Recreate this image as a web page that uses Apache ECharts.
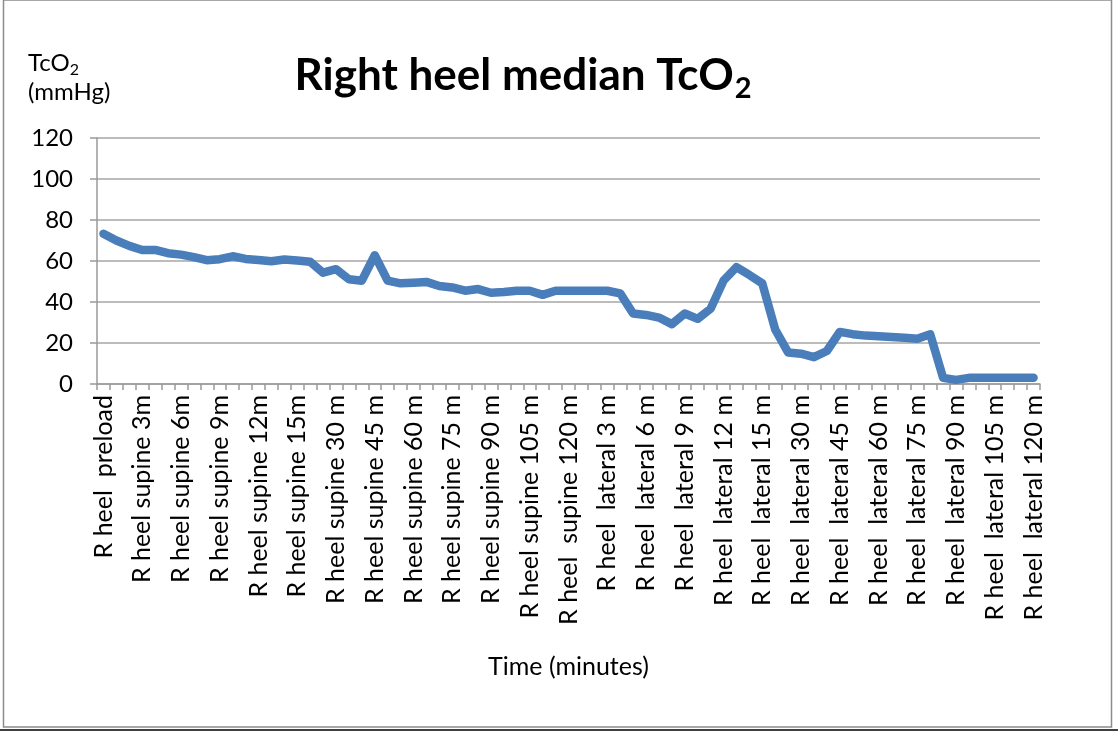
<!DOCTYPE html>
<html>
<head>
<meta charset="utf-8">
<script src="https://cdn.jsdelivr.net/npm/echarts@6/dist/echarts.min.js"></script>
<style>html,body{margin:0;padding:0;background:#fff}#c{width:1118px;height:733px}</style>
</head>
<body>
<div id="c"></div>
<script>
const categories = [
  'R heel  preload','R heel supine 1m','R heel supine 2m','R heel supine 3m','R heel supine 4m','R heel supine 5m',
  'R heel supine 6m','R heel supine 7m','R heel supine 8m','R heel supine 9m','R heel supine 10m','R heel supine 11m',
  'R heel supine 12m','R heel supine 13m','R heel supine 14m','R heel supine 15m','R heel supine 20 m','R heel supine 25 m',
  'R heel supine 30 m','R heel supine 35 m','R heel supine 40 m','R heel supine 45 m','R heel supine 50 m','R heel supine 55 m',
  'R heel supine 60 m','R heel supine 65 m','R heel supine 70 m','R heel supine 75 m','R heel supine 80 m','R heel supine 85 m',
  'R heel supine 90 m','R heel supine 95 m','R heel supine 100 m','R heel supine 105 m','R heel supine 110 m','R heel supine 115 m',
  'R heel  supine 120 m','R heel  lateral 1 m','R heel  lateral 2 m','R heel  lateral 3 m','R heel  lateral 4 m','R heel  lateral 5 m',
  'R heel  lateral 6 m','R heel  lateral 7 m','R heel  lateral 8 m','R heel  lateral 9 m','R heel  lateral 10 m','R heel  lateral 11 m',
  'R heel  lateral 12 m','R heel  lateral 13 m','R heel  lateral 14 m','R heel  lateral 15 m','R heel  lateral 20 m','R heel  lateral 25 m',
  'R heel  lateral 30 m','R heel  lateral 35 m','R heel  lateral 40 m','R heel  lateral 45 m','R heel  lateral 50 m','R heel  lateral 55 m',
  'R heel  lateral 60 m','R heel  lateral 65 m','R heel  lateral 70 m','R heel  lateral 75 m','R heel  lateral 80 m','R heel  lateral 85 m',
  'R heel  lateral 90 m','R heel  lateral 95 m','R heel  lateral 100 m','R heel  lateral 105 m','R heel  lateral 110 m','R heel  lateral 115 m',
  'R heel  lateral 120 m'
];
const tco2Values = [
  73.3, 70.0, 67.4, 65.4, 65.4, 63.8, 63.1, 61.9, 60.4, 60.9, 62.3, 61.0,
  60.5, 59.9, 60.7, 60.2, 59.6, 54.3, 56.0, 51.1, 50.4, 62.8, 50.4, 49.1,
  49.4, 49.8, 47.8, 47.1, 45.5, 46.3, 44.5, 44.9, 45.5, 45.5, 43.5, 45.5,
  45.5, 45.5, 45.5, 45.5, 44.2, 34.4, 33.7, 32.4, 29.2, 34.4, 31.8, 36.7,
  50.4, 57.0, 53.2, 49.1, 26.6, 15.4, 14.8, 13.1, 16.1, 25.4, 24.3, 23.6,
  23.3, 22.9, 22.6, 22.1, 24.3, 3.0, 2.0, 3.0, 3.0, 3.0, 3.0, 3.0, 3.0
];
const yTicks = { min: 0, max: 120, interval: 20 };
const titleText = 'Right heel median TcO';
const yName = ['TcO', '(mmHg)'];
const xName = 'Time (minutes)';

const FONT = 'Lato';
const chart = echarts.init(document.getElementById('c'), null, { renderer: 'canvas' });
chart.setOption({
  backgroundColor: '#fff',
  animation: false,
  title: [
    {
      text: '{a|' + titleText + '}{b|2}',
      left: 518, top: 44, textAlign: 'center',
      textStyle: {
        rich: {
          a: { fontFamily: FONT, fontSize: 44, fontWeight: 'bold', color: '#000', lineHeight: 54, verticalAlign: 'middle' },
          b: { fontFamily: FONT, fontSize: 29, fontWeight: 'bold', color: '#000', lineHeight: 54, verticalAlign: 'bottom', padding: [0, 0, 0, 1] }
        }
      }
    },
    {
      text: '{a|' + yName[0] + '}{s|2}\n{a|' + yName[1] + '}',
      left: 23, top: 44,
      textStyle: {
        rich: {
          a: { fontFamily: FONT, fontSize: 24, fontWeight: 'normal', color: '#000', lineHeight: 29, verticalAlign: 'middle' },
          s: { fontFamily: FONT, fontSize: 16, fontWeight: 'normal', color: '#000', lineHeight: 29, verticalAlign: 'bottom' }
        }
      }
    }
  ],
  grid: { left: 97, right: 78, top: 138, bottom: 349, containLabel: false },
  xAxis: {
    type: 'category',
    data: categories,
    boundaryGap: true,
    name: xName,
    nameLocation: 'middle',
    nameGap: 270,
    nameTextStyle: { fontFamily: FONT, fontSize: 25, color: '#000' },
    axisLine: { lineStyle: { color: '#9a9a9a', width: 1.5 } },
    axisTick: { show: true, interval: 0, alignWithLabel: false, length: 6, lineStyle: { color: '#9a9a9a', width: 1.5 } },
    axisLabel: { interval: 2, rotate: 90, margin: 11, fontFamily: FONT, fontSize: 25, color: '#000' },
    splitLine: { show: false }
  },
  yAxis: {
    type: 'value',
    min: yTicks.min, max: yTicks.max, interval: yTicks.interval,
    axisLine: { show: true, lineStyle: { color: '#9a9a9a', width: 1.5 } },
    axisTick: { show: true, length: 7, lineStyle: { color: '#9a9a9a', width: 1.5 } },
    axisLabel: { margin: 24, fontFamily: FONT, fontSize: 24, color: '#000' },
    splitLine: { show: true, lineStyle: { color: '#a6a6a6', width: 1.5 } }
  },
  series: [{
    type: 'line',
    data: tco2Values,
    showSymbol: false,
    symbol: 'none',
    lineStyle: { color: '#4a7ebb', width: 8.5, cap: 'round', join: 'round' }
  }],
  graphic: [
    { type: 'rect', shape: { x: 3.5, y: 0, width: 1108, height: 727 }, style: { fill: 'none', stroke: '#8c8c8c', lineWidth: 1.5 }, silent: true },
    { type: 'line', shape: { x1: 0, y1: 730, x2: 1118, y2: 730 }, style: { stroke: '#000', lineWidth: 1.5 }, silent: true }
  ]
});
</script>
</body>
</html>
